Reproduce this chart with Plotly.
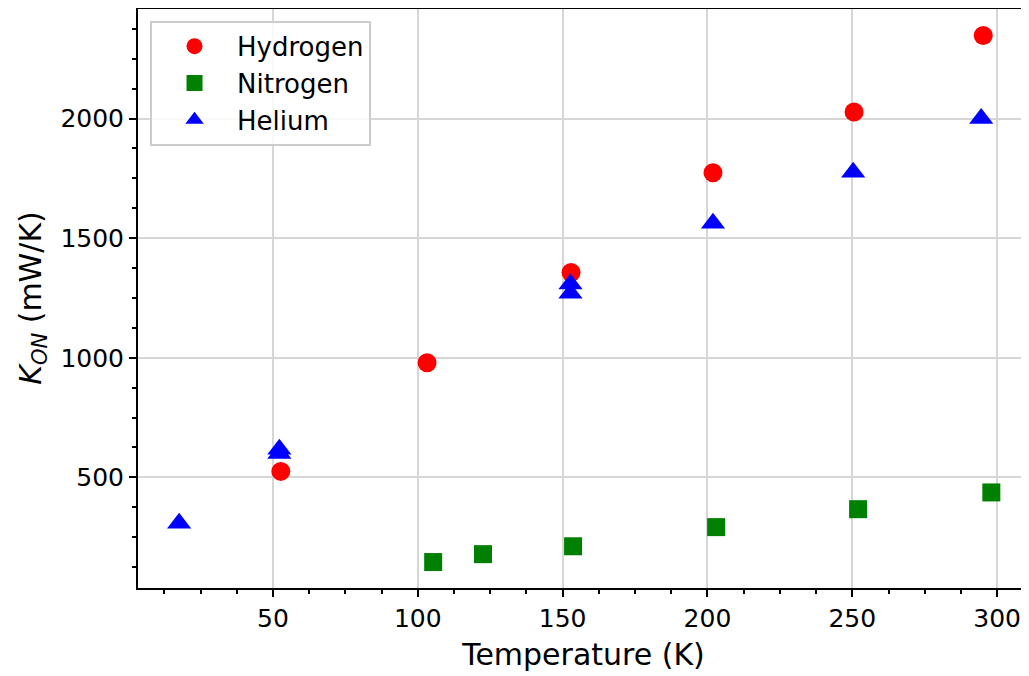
import plotly.graph_objects as go

# Data
h_temp = [52.7, 103.2, 152.9, 201.9, 250.6, 295.2]
h_kon = [525, 979, 1356, 1773, 2027, 2347]

n_temp = [105.3, 122.5, 153.6, 203.0, 252.0, 298.0]
n_kon = [146, 179, 212, 292, 367, 437]

he_temp = [17.6, 52.2, 52.2, 152.7, 152.7, 201.9, 250.3, 294.5]
he_kon = [308, 600, 617, 1308, 1270, 1562, 1775, 2000]

FONT = "DejaVu Sans"

fig = go.Figure()
fig.add_trace(go.Scatter(x=h_temp, y=h_kon, mode="markers", name="Hydrogen",
                         marker=dict(symbol="circle", color="red", size=19)))
fig.add_trace(go.Scatter(x=n_temp, y=n_kon, mode="markers", name="Nitrogen",
                         marker=dict(symbol="square", color="green", size=18)))
fig.add_trace(go.Scatter(x=he_temp, y=he_kon, mode="markers", name="Helium",
                         marker=dict(symbol="triangle-up", color="blue", size=21)))

axis_common = dict(
    showline=True, linecolor="black", linewidth=2, mirror=False,
    ticks="outside", ticklen=7, tickwidth=2, tickcolor="black",
    showgrid=True, gridcolor="#d6d6d6", gridwidth=1.5,
    zeroline=False,
    tickfont=dict(family=FONT, size=25, color="black"),
)

fig.update_xaxes(
    range=[3.4, 311], tick0=0, dtick=50,
    minor=dict(tick0=0, dtick=12.5, ticks="outside", ticklen=4, tickwidth=1.5,
               tickcolor="black", showgrid=False),
    title=dict(text="Temperature (K)", font=dict(family=FONT, size=30, color="black"),
               standoff=12),
    **axis_common,
)
fig.update_yaxes(
    range=[37.5, 2462], tick0=0, dtick=500,
    minor=dict(tick0=0, dtick=125, ticks="outside", ticklen=4, tickwidth=1.5,
               tickcolor="black", showgrid=False),
    title=dict(text="<i>K</i><sub><i>ON</i></sub> (mW/K)",
               font=dict(family=FONT, size=30, color="black"), standoff=10),
    **axis_common,
)

fig.update_layout(
    width=1021, height=668,
    margin=dict(l=130, r=0, t=0, b=88, autoexpand=False),
    plot_bgcolor="white", paper_bgcolor="white",
    font=dict(family=FONT, color="black"),
    legend=dict(x=0.0135, y=0.978, xanchor="left", yanchor="top",
                bgcolor="rgba(255,255,255,0.85)", bordercolor="#cccccc", borderwidth=2,
                font=dict(family=FONT, size=26, color="black"),
                itemwidth=75),
    showlegend=True,
)

# top spine
fig.add_shape(type="line", xref="paper", yref="paper", x0=0, x1=1, y0=1, y1=1,
              line=dict(color="black", width=2))

fig.write_html("out.html")
